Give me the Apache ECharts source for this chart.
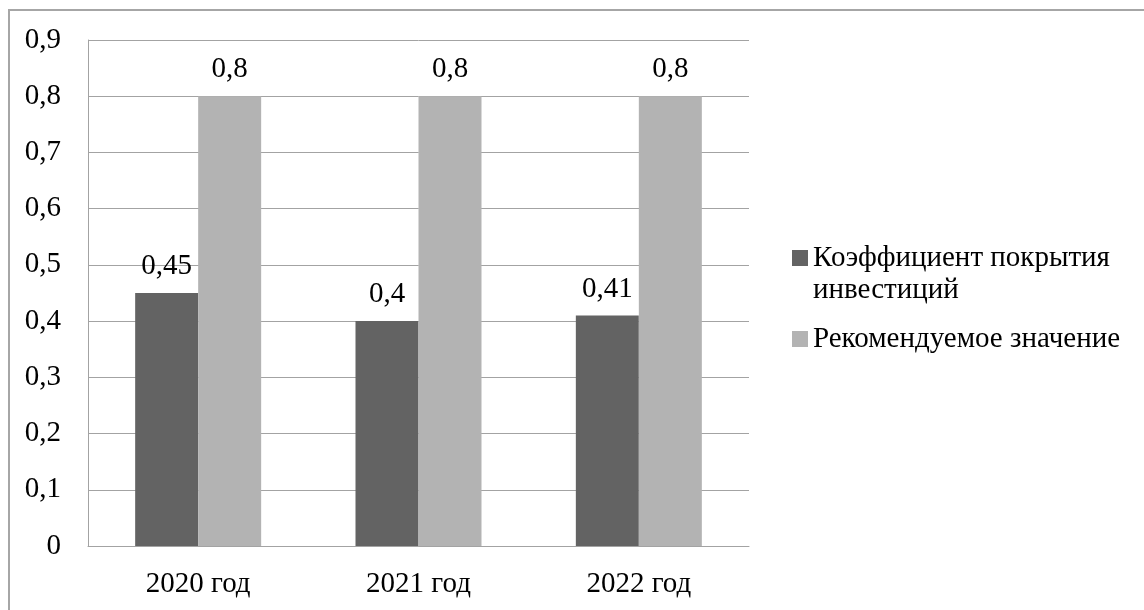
<!DOCTYPE html>
<html>
<head>
<meta charset="utf-8">
<style>
  html, body { margin: 0; padding: 0; background: #ffffff; }
  #chart { width: 1144px; height: 610px; }
</style>
<script src="https://cdn.jsdelivr.net/npm/echarts@6/dist/echarts.min.js"></script>
</head>
<body>
<div id="chart"></div>
<script>
// Categories and series values
const years = ['2020 год', '2021 год', '2022 год'];
const coverageName = 'Коэффициент покрытия инвестиций';
const recommendedName = 'Рекомендуемое значение';
const coverage = [0.45, 0.4, 0.41];
const recommended = [0.8, 0.8, 0.8];

// Value axis range
const yMin = 0;
const yMax = 0.9;
const yStep = 0.1;

const FONT = "'Liberation Serif', 'Times New Roman', serif";
const FONT_SIZE = 29;
const GRID_COLOR = '#a3a3a3';

// Decimal comma formatting
const comma = v => String(Math.round(v * 100) / 100).replace('.', ',');

// Square marker sitting at the top of a taller box, so it lines up with the
// first line of a two-line legend label
const topSquareIcon = 'path://M0,0H16V16H0Z M0,48H0.01V48Z';

const chart = echarts.init(document.getElementById('chart'), null, { renderer: 'canvas' });

chart.setOption({
  backgroundColor: '#ffffff',
  animation: false,
  textStyle: { fontFamily: FONT, color: '#000000' },
  grid: { left: 88, right: 395, top: 40, bottom: 64, containLabel: false },
  xAxis: {
    type: 'category',
    data: years,
    axisLine: { show: true, lineStyle: { color: GRID_COLOR, width: 1 } },
    axisTick: { show: false },
    axisLabel: { color: '#000000', fontFamily: FONT, fontSize: FONT_SIZE, margin: 24 },
    splitLine: { show: false }
  },
  yAxis: {
    type: 'value',
    min: yMin,
    max: yMax,
    interval: yStep,
    axisLine: { show: true, lineStyle: { color: GRID_COLOR, width: 1 } },
    axisTick: { show: false },
    axisLabel: { color: '#000000', fontFamily: FONT, fontSize: FONT_SIZE, margin: 27, formatter: comma },
    splitLine: { show: true, lineStyle: { color: GRID_COLOR, width: 1 } }
  },
  legend: [
    {
      orient: 'vertical',
      left: 792,
      top: 242,
      padding: 0,
      itemWidth: 16,
      itemHeight: 48,
      icon: topSquareIcon,
      textStyle: { fontFamily: FONT, fontSize: FONT_SIZE, color: '#000000', lineHeight: 32 },
      formatter: () => 'Коэффициент покрытия\nинвестиций',
      data: [coverageName]
    },
    {
      orient: 'vertical',
      left: 792,
      top: 323,
      padding: 0,
      itemWidth: 16,
      itemHeight: 16,
      icon: 'rect',
      textStyle: { fontFamily: FONT, fontSize: FONT_SIZE, color: '#000000', lineHeight: 32 },
      data: [recommendedName]
    }
  ],
  graphic: [
    {
      type: 'rect',
      silent: true,
      shape: { x: 9, y: 10, width: 1300, height: 800 },
      style: { fill: 'none', stroke: '#a6a6a6', lineWidth: 2 }
    }
  ],
  series: [
    {
      name: coverageName,
      type: 'bar',
      data: coverage,
      barWidth: 63,
      barGap: '0%',
      itemStyle: { color: '#636363' },
      label: {
        show: true,
        position: 'top',
        distance: 12,
        fontFamily: FONT,
        fontSize: FONT_SIZE,
        color: '#000000',
        formatter: p => comma(p.value)
      }
    },
    {
      name: recommendedName,
      type: 'bar',
      data: recommended,
      barWidth: 63,
      barGap: '0%',
      itemStyle: { color: '#b3b3b3' },
      label: {
        show: true,
        position: 'top',
        distance: 12,
        fontFamily: FONT,
        fontSize: FONT_SIZE,
        color: '#000000',
        formatter: p => comma(p.value)
      }
    }
  ]
});
</script>
</body>
</html>
